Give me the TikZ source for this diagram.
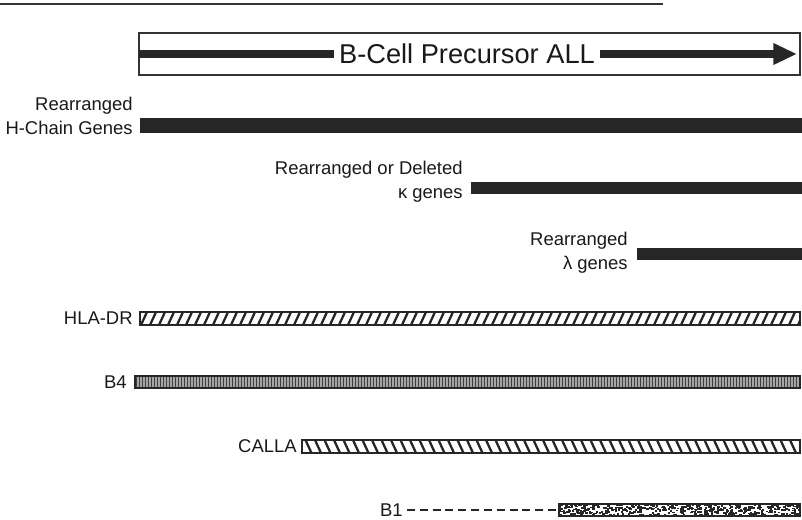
\documentclass[tikz,border=0pt]{standalone}
\usepackage{fontspec}
\setmainfont{Liberation Sans}
\usetikzlibrary{arrows.meta}
\begin{document}
\begin{tikzpicture}[x=0.02cm,y=-0.02cm,
    lbl/.style={text=black!90, font=\fontsize{10.5}{13.6}\selectfont, align=right, anchor=east, inner sep=0pt},
    bar/.style={draw=black!85, line width=0.8pt},
    hatch/.style={black!85, line width=1.3pt}]
    \useasboundingbox (0,0) rectangle (802,520);

    % 0. Top rule
    \draw[black!80, line width=1.1pt] (0,4) -- (663,4);

    % 1. Title box with arrow
    \draw[black!80, line width=0.7pt] (139,33) rectangle (800,75);
    \coordinate (arrS) at (139,54);
    \coordinate (arrE) at (797,54);
    \draw[black!85, line width=4pt, -{Triangle[length=13.5pt, width=11.5pt]}] (arrS) -- (arrE);
    \node[fill=white, inner xsep=3pt, inner ysep=1pt, text=black!90,
          font=\fontsize{15.5}{18}\selectfont] (title) at (467,54) {B-Cell Precursor ALL};

    % 2. Solid bars: rearranged genes
    \node[lbl] (hchain) at (133,116) {Rearranged\\H-Chain Genes};
    \fill[black!85] (140,118) rectangle (802,133);

    \node[lbl] (kappa) at (463,182) {Rearranged or Deleted\\κ genes};
    \fill[black!85] (471,182) rectangle (802,194);

    \node[lbl] (lambda) at (628,253) {Rearranged\\λ genes};
    \fill[black!85] (637,248) rectangle (802,260);

    % 3. HLA-DR: forward hatching
    \node[lbl] (hla) at (133,318) {HLA-DR};
    \begin{scope}
        \clip (140,312) rectangle (800,325);
        \foreach \x in {132,141,...,810}
            \draw[hatch] (\x,325) -- (\x+6,312);
    \end{scope}
    \draw[bar] (140,312) rectangle (800,325);

    % 4. B4: fine vertical lines
    \node[lbl] (bfour) at (127,382) {B4};
    \begin{scope}
        \clip (135,376) rectangle (800,388);
        \fill[black!35] (135,376) rectangle (800,388);
        \foreach \x in {136,139,...,800}
            \draw[black!75, line width=0.45pt] (\x,376) -- (\x,388);
    \end{scope}
    \draw[bar] (135,376) rectangle (800,388);

    % 5. CALLA: backward hatching
    \node[lbl] (calla) at (297,446) {CALLA};
    \begin{scope}
        \clip (302,440) rectangle (800,453);
        \foreach \x in {296,305.5,...,810}
            \draw[hatch] (\x,440) -- (\x+6,453);
    \end{scope}
    \draw[bar] (302,440) rectangle (800,453);

    % 6. B1: dashed lead, then speckled bar
    \node[lbl] (bone) at (403,510) {B1};
    \coordinate (bstart) at (559,510);
    \draw[black!85, line width=0.9pt, dash pattern=on 4.5pt off 2.8pt] (bone.east) ++(4,0) -- (bstart);
    \begin{scope}
        \clip (559,504) rectangle (800,516);
        \pgfmathsetseed{42}
        \foreach \i in {1,...,600} {
            \pgfmathsetmacro{\rx}{557+243*rnd}
            \pgfmathsetmacro{\ry}{502+14*rnd}
            \fill[black!85] (\rx,\ry) rectangle ++(2.4,1.7);
        }
    \end{scope}
    \draw[bar] (559,504) rectangle (800,516);
\end{tikzpicture}
\end{document}
